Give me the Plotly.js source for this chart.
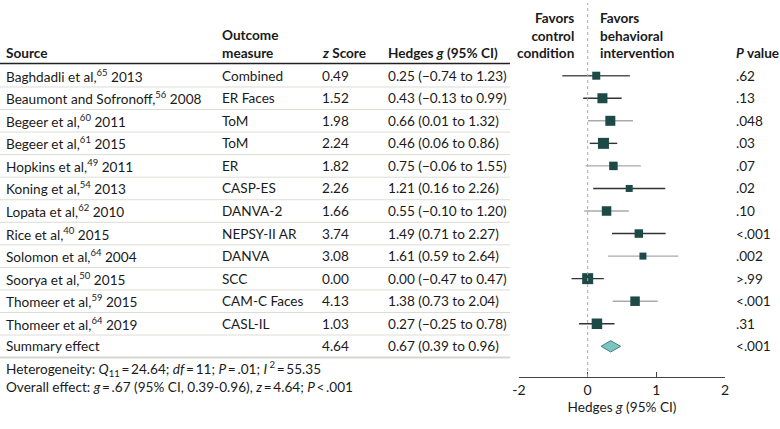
<!DOCTYPE html>
<html><head><meta charset="utf-8">
<script src="https://cdn.plot.ly/plotly-3.0.1.min.js"></script>
<style>html,body{margin:0;padding:0;background:#fff}#chart{width:780px;height:429px}</style>
</head><body><div id="chart"></div>
<script>
// ---- data ----
const authors = ["Baghdadli et al,", "Beaumont and Sofronoff,", "Begeer et al,", "Begeer et al,", "Hopkins et al,", "Koning et al,", "Lopata et al,", "Rice et al,", "Solomon et al,", "Soorya et al,", "Thomeer et al,", "Thomeer et al,"];
const refs = [65, 56, 60, 61, 49, 54, 62, 40, 64, 50, 59, 64];
const years = [2013, 2008, 2011, 2015, 2011, 2013, 2010, 2015, 2004, 2015, 2015, 2019];
const outcomes = ["Combined", "ER Faces", "ToM", "ToM", "ER", "CASP-ES", "DANVA-2", "NEPSY-II AR", "DANVA", "SCC", "CAM-C Faces", "CASL-IL"];
const zScores = [0.49, 1.52, 1.98, 2.24, 1.82, 2.26, 1.66, 3.74, 3.08, 0.00, 4.13, 1.03];
const hedgesG = [0.25, 0.43, 0.66, 0.46, 0.75, 1.21, 0.55, 1.49, 1.61, 0.00, 1.38, 0.27];
const ciLow = [-0.74, -0.13, 0.01, 0.06, -0.06, 0.16, -0.10, 0.71, 0.59, -0.47, 0.73, -0.25];
const ciHigh = [1.23, 0.99, 1.32, 0.86, 1.55, 2.26, 1.20, 2.27, 2.64, 0.47, 2.04, 0.78];
const pValues = [".62", ".13", ".048", ".03", ".07", ".02", ".10", "<.001", ".002", ">.99", "<.001", ".31"];
const summaryLabel = "Summary effect";
const summaryZ = 4.64;
const summaryG = 0.67;
const summaryLow = 0.39;
const summaryHigh = 0.96;
const summaryP = "<.001";
const xTickVals = [-2, 0, 2, 4];
const xTickLabels = ["-2", "0", "1", "2"];

// ---- styles ----
const markerSizes = [8, 10, 10, 11, 8.5, 7, 9.5, 8.5, 7, 11, 9.5, 10.5];
const ciShade = ["#555", "#333", "#aaa", "#333", "#aaa", "#333", "#aaa", "#333", "#aaa", "#333", "#aaa", "#333"];
const FONT = "Lato, 'Noto Sans', sans-serif";
const FS = 13.6;
const TXT = "#1a1a1a";
const W = 780, H = 429;
const px = v => v / W;
const col = {src: 4, out: 220, z: 320, g: 386, p: 734};
const TS = "\u2009";

const esc = s => String(s).replace(/</g, "&lt;").replace(/>/g, "&gt;");
const f2 = v => (v < 0 ? "\u2212" : "") + Math.abs(v).toFixed(2);
const n = hedgesG.length;
const rows = hedgesG.map((_, i) => i);
const sumRow = n;

// CI line traces (grouped by shade)
const shades = [...new Set(ciShade)];
const traces = shades.map(c => {
  const xs = [], ys = [];
  rows.forEach(i => { if (ciShade[i] === c) { xs.push(ciLow[i], ciHigh[i], null); ys.push(i, i, null); } });
  return {type: "scatter", mode: "lines", x: xs, y: ys, line: {color: c, width: 1.4}, hoverinfo: "skip", showlegend: false};
});
traces.push({type: "scatter", mode: "markers", x: hedgesG, y: rows,
  marker: {symbol: "square", size: markerSizes, color: "#1d4947", opacity: 1, line: {width: 0}}, showlegend: false});
const dh = 0.25;
traces.push({type: "scatter", mode: "lines", fill: "toself",
  x: [summaryLow, summaryG, summaryHigh, summaryG, summaryLow],
  y: [sumRow, sumRow - dh, sumRow, sumRow + dh, sumRow],
  fillcolor: "#7dc3bf", line: {color: "#3f8480", width: 1}, showlegend: false});

// table annotations
const ann = [];
const cell = (x, y, text, extra) => ann.push(Object.assign({xref: "paper", yref: "y", x: px(x), y: y, text: text,
  showarrow: false, xanchor: "left", yanchor: "middle", font: {family: FONT, size: FS, color: TXT}}, extra || {}));
rows.forEach(i => {
  cell(col.src, i, authors[i] + "<sup>" + refs[i] + "</sup> " + years[i]);
  cell(col.out, i, outcomes[i]);
  cell(col.z, i, zScores[i].toFixed(2));
  cell(col.g, i, f2(hedgesG[i]) + " (" + f2(ciLow[i]) + " to " + f2(ciHigh[i]) + ")");
  cell(col.p, i, esc(pValues[i]));
});
cell(col.src, sumRow, summaryLabel);
cell(col.z, sumRow, summaryZ.toFixed(2));
cell(col.g, sumRow, f2(summaryG) + " (" + f2(summaryLow) + " to " + f2(summaryHigh) + ")");
cell(col.p, sumRow, esc(summaryP));

// headers
const hy = -0.56;
const head = (x, text, anchor) => ann.push({xref: "paper", yref: "y", x: px(x), y: hy, text: text, showarrow: false,
  xanchor: anchor || "left", yanchor: "bottom", align: anchor === "right" ? "right" : "left",
  font: {family: FONT, size: FS, color: TXT, weight: 700}});
head(col.src, "Source");
head(col.out, "Outcome<br>measure");
head(col.z, "<i>z</i> Score");
head(col.g, "Hedges <i>g</i> (95% CI)");
head(576, "Favors<br>control<br>condition", "right");
head(598, "Favors<br>behavioral<br>intervention");
head(col.p, "<i>P</i> value");

// footer
const foot = (yp, text) => ann.push({xref: "paper", yref: "paper", x: px(4), y: 1 - yp / H, text: text, showarrow: false,
  xanchor: "left", yanchor: "middle", font: {family: FONT, size: FS, color: TXT}});
foot(369, "Heterogeneity: <i>Q</i><sub>11</sub>" + TS + "=" + TS + "24.64; <i>df</i>" + TS + "=" + TS + "11; <i>P</i>" + TS + "=" + TS + ".01; <i>I</i><sup> 2</sup>" + TS + "=" + TS + "55.35");
foot(387, "Overall effect: <i>g</i>" + TS + "=" + TS + ".67 (95% CI, 0.39-0.96), <i>z</i>" + TS + "=" + TS + "4.64; <i>P</i>" + TS + "&lt;" + TS + ".001");

// lines
const shapes = [];
shapes.push({type: "line", xref: "paper", yref: "y", x0: 0, x1: px(510), y0: -0.54, y1: -0.54, line: {color: "#222", width: 1.5}});
for (let k = 0; k <= n; k++) {
  const last = k === n;
  shapes.push({type: "line", xref: "paper", yref: "y", x0: 0, x1: px(510), y0: k + 0.5, y1: k + 0.5,
    line: {color: last ? "#d6d6d0" : "#dcdcd6", width: last ? 2 : 1}});
}
const yBottom = 1 - 377 / H;
shapes.push({type: "line", xref: "x", yref: "paper", x0: 0, x1: 0, y0: yBottom, y1: 1 - 3 / H, line: {color: "#aaa", width: 1, dash: "dot"}});

const layout = {
  width: W, height: H, margin: {l: 0, r: 0, t: 0, b: 0}, paper_bgcolor: "#fff", plot_bgcolor: "rgba(0,0,0,0)",
  showlegend: false, font: {family: FONT, size: FS, color: TXT},
  xaxis: {domain: [px(519), px(725)], range: [-2, 4], tickvals: xTickVals, ticktext: xTickLabels,
    showline: true, linecolor: "#444", linewidth: 1, ticks: "inside", ticklen: 5, tickcolor: "#444",
    showgrid: false, zeroline: false, tickfont: {family: FONT, size: 14, color: TXT},
    title: {text: "Hedges <i>g</i> (95% CI)", font: {family: FONT, size: FS, color: TXT}, standoff: 5}},
  yaxis: {domain: [yBottom, 1], range: [(377 - 75.7) / 22.55, -75.7 / 22.55], visible: false, showgrid: false, zeroline: false},
  annotations: ann, shapes: shapes
};
Plotly.newPlot("chart", traces, layout, {staticPlot: true});
</script></body></html>
